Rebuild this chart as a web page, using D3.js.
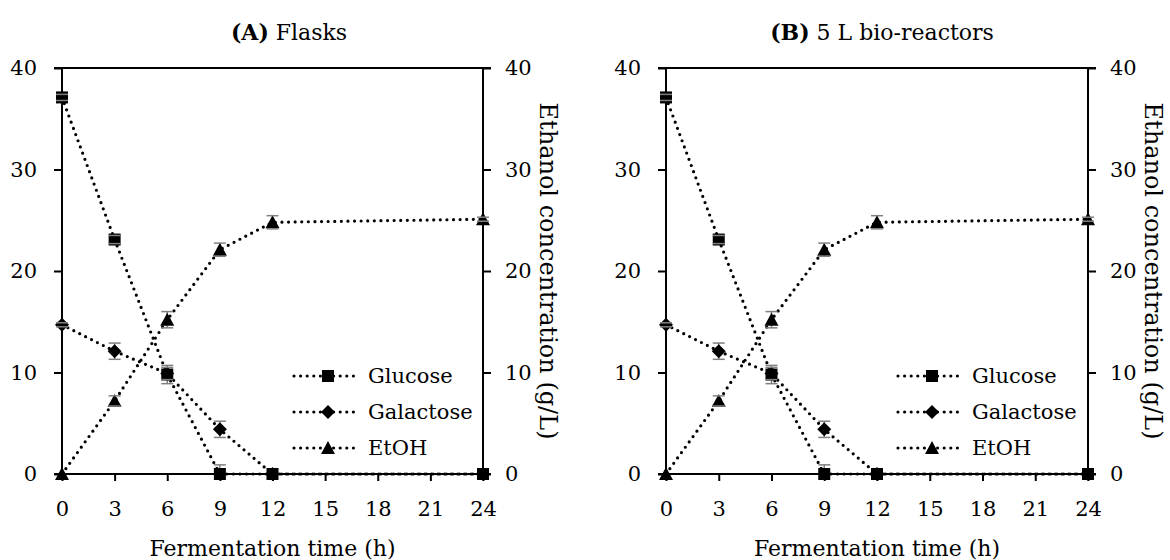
<!DOCTYPE html>
<html>
<head>
<meta charset="utf-8">
<script src="https://cdn.jsdelivr.net/npm/d3@7/dist/d3.min.js"></script>
<style>
  html, body { margin: 0; padding: 0; background: #fff; }
  svg { display: block; }
  text { font-family: "DejaVu Serif", "Liberation Serif", serif; fill: #000; }
</style>
</head>
<body>
<svg id="chart" width="1170" height="560"></svg>
<script>
// ---- data ----
const times = [0, 3, 6, 9, 12, 24];
const xTicks = [0, 3, 6, 9, 12, 15, 18, 21, 24];
const yTicks = [0, 10, 20, 30, 40];
const seriesNames = ["Glucose", "Galactose", "EtOH"];

// (A) Flasks
const flaskGlucose = [37.1, 23.1, 9.8, 0, 0, 0];
const flaskGlucoseErr = [0.3, 0.4, 0.9, 0.9, 0, 0];
const flaskGalactose = [14.7, 12.1, 9.9, 4.4, 0, 0];
const flaskGalactoseErr = [0.2, 0.8, 0.6, 0.8, 0, 0];
const flaskEtOH = [0, 7.2, 15.2, 22.1, 24.8, 25.1];
const flaskEtOHErr = [0, 0.5, 0.8, 0.65, 0.65, 0.2];

// (B) 5 L bio-reactors
const reactorGlucose = [37.1, 23.1, 9.8, 0, 0, 0];
const reactorGlucoseErr = [0.3, 0.4, 0.9, 0.9, 0, 0];
const reactorGalactose = [14.7, 12.1, 9.9, 4.4, 0, 0];
const reactorGalactoseErr = [0.2, 0.8, 0.6, 0.8, 0, 0];
const reactorEtOH = [0, 7.2, 15.2, 22.1, 24.8, 25.1];
const reactorEtOHErr = [0, 0.5, 0.8, 0.65, 0.65, 0.2];

const panels = [
  { letter: "A", title: " Flasks", left: 62, right: 483, titleX: 289,
    series: [
      { name: "Glucose", values: flaskGlucose, err: flaskGlucoseErr, marker: "square" },
      { name: "Galactose", values: flaskGalactose, err: flaskGalactoseErr, marker: "diamond" },
      { name: "EtOH", values: flaskEtOH, err: flaskEtOHErr, marker: "triangle" }
    ] },
  { letter: "B", title: " 5 L bio-reactors", left: 666, right: 1088, titleX: 882,
    series: [
      { name: "Glucose", values: reactorGlucose, err: reactorGlucoseErr, marker: "square" },
      { name: "Galactose", values: reactorGalactose, err: reactorGalactoseErr, marker: "diamond" },
      { name: "EtOH", values: reactorEtOH, err: reactorEtOHErr, marker: "triangle" }
    ] }
];

const svg = d3.select("#chart");
const plotTop = 68, plotBottom = 474;
const fs = 21;

function drawMarker(g, type, cx, cy) {
  if (type === "square") {
    g.append("rect").attr("x", cx - 6).attr("y", cy - 6).attr("width", 12).attr("height", 12).attr("fill", "#000");
  } else if (type === "diamond") {
    const r = 7;
    g.append("path").attr("d", `M${cx},${cy - r}L${cx + r},${cy}L${cx},${cy + r}L${cx - r},${cy}Z`).attr("fill", "#000");
  } else {
    const s = 7;
    g.append("path").attr("d", `M${cx},${cy - s}L${cx + s},${cy + s * 0.85}L${cx - s},${cy + s * 0.85}Z`).attr("fill", "#000");
  }
}

panels.forEach(p => {
  const x = d3.scaleLinear().domain([0, 24]).range([p.left, p.right]);
  const y = d3.scaleLinear().domain([0, 40]).range([plotBottom, plotTop]);
  const g = svg.append("g");

  // title
  const t = g.append("text").attr("x", p.titleX).attr("y", 40).attr("text-anchor", "middle").style("font-size", "22px");
  t.append("tspan").text("(").style("font-weight", "bold");
  t.append("tspan").text(p.letter).style("font-weight", "bold");
  t.append("tspan").text(")").style("font-weight", "bold");
  t.append("tspan").text(p.title);

  // axes
  const axL = g.append("g").attr("transform", `translate(${p.left},0)`)
    .call(d3.axisLeft(y).tickValues(yTicks).tickSize(8).tickPadding(17).tickFormat(d3.format("d")));
  const axR = g.append("g").attr("transform", `translate(${p.right},0)`)
    .call(d3.axisRight(y).tickValues(yTicks).tickSize(8).tickPadding(14).tickFormat(d3.format("d")));
  const axB = g.append("g").attr("transform", `translate(0,${plotBottom})`)
    .call(d3.axisBottom(x).tickValues(xTicks).tickSize(7).tickPadding(20).tickFormat(d3.format("d")));
  [axL, axR, axB].forEach(a => {
    a.select(".domain").remove();
    a.selectAll(".tick line").attr("stroke", "#000").attr("stroke-width", 2);
    a.selectAll(".tick text").style("font-size", fs + "px").style("font-family", "DejaVu Serif");
  });
  g.append("line").attr("x1", p.left).attr("x2", p.left).attr("y1", plotTop).attr("y2", plotBottom).attr("stroke", "#000").attr("stroke-width", 2);
  g.append("line").attr("x1", p.right).attr("x2", p.right).attr("y1", plotTop).attr("y2", plotBottom).attr("stroke", "#000").attr("stroke-width", 2);
  g.append("line").attr("x1", p.left - 8).attr("x2", p.right + 8).attr("y1", y(40)).attr("y2", y(40)).attr("stroke", "#000").attr("stroke-width", 2);
  g.append("line").attr("x1", p.left - 8).attr("x2", p.right + 8).attr("y1", y(0)).attr("y2", y(0)).attr("stroke", "#000").attr("stroke-width", 2);

  // axis titles
  g.append("text").attr("x", (p.left + p.right) / 2).attr("y", 556).attr("text-anchor", "middle")
    .style("font-size", "22px").text("Fermentation time (h)");
  g.append("text").attr("transform", `translate(${p.right + 57},${(plotTop + plotBottom) / 2}) rotate(90)`)
    .attr("text-anchor", "middle").style("font-size", "24px").text("Ethanol concentration (g/L)");

  // lines
  const line = d3.line().x((d, i) => x(times[i])).y(d => y(d));
  p.series.forEach(s => {
    g.append("path").attr("d", line(s.values)).attr("fill", "none").attr("stroke", "#000")
      .attr("stroke-width", 3.2).attr("stroke-linecap", "round").attr("stroke-dasharray", "0,6.6");
  });

  // error bars (stems) then markers (glucose drawn last, on top) then caps
  const drawOrder = p.series.slice().reverse();
  drawOrder.forEach(s => {
    s.values.forEach((v, i) => {
      if (s.err[i] > 0) {
        g.append("line").attr("x1", x(times[i])).attr("x2", x(times[i]))
          .attr("y1", y(v + s.err[i])).attr("y2", y(Math.max(0, v - s.err[i])))
          .attr("stroke", "#808080").attr("stroke-width", 1.5);
      }
    });
  });
  drawOrder.forEach(s => {
    s.values.forEach((v, i) => drawMarker(g, s.marker, x(times[i]), y(v)));
  });
  drawOrder.forEach(s => {
    s.values.forEach((v, i) => {
      if (s.err[i] > 0) {
        [v + s.err[i], v - s.err[i]].forEach(e => {
          if (e >= 0) {
            g.append("line").attr("x1", x(times[i]) - 6).attr("x2", x(times[i]) + 6)
              .attr("y1", y(e)).attr("y2", y(e)).attr("stroke", "#808080").attr("stroke-width", 1.5);
          }
        });
      }
    });
  });

  // legend
  const rows = [376, 412, 448];
  p.series.forEach((s, k) => {
    const ly = rows[k];
    g.append("line").attr("x1", p.left + 232).attr("x2", p.left + 297).attr("y1", ly).attr("y2", ly)
      .attr("stroke", "#000").attr("stroke-width", 3.2).attr("stroke-linecap", "round").attr("stroke-dasharray", "0,6.6");
    drawMarker(g, s.marker, p.left + 266, ly);
    g.append("text").attr("x", p.left + 306).attr("y", ly).attr("dy", "0.35em").style("font-size", "21px").text(s.name);
  });
});
</script>
</body>
</html>
